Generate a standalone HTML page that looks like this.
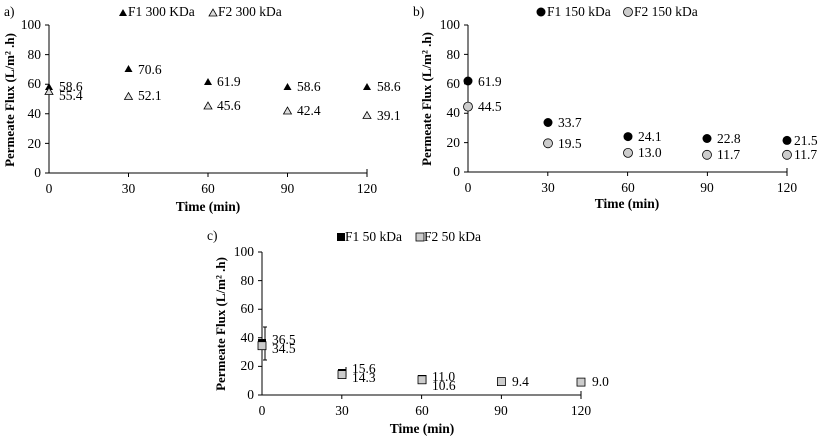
<!DOCTYPE html>
<html><head><meta charset="utf-8"><style>
body{margin:0;background:#fff}
svg{display:block;font-family:"Liberation Serif",serif;font-size:13.5px}
.b{font-weight:bold}
</style></head><body>
<svg width="820" height="436" viewBox="0 0 820 436">
<g stroke="#000" stroke-width="1" fill="none">
<path d="M49,25V173H367"/>
<path d="M45,25H49M45,54.6H49M45,84.2H49M45,113.8H49M45,143.4H49M45,173H49"/>
<path d="M128.5,173v4M208,173v4M287.5,173v4M367,173v-4v8"/>
<path d="M468,25V172H787"/>
<path d="M464,25H468M464,54.4H468M464,83.8H468M464,113.2H468M464,142.6H468M464,172H468"/>
<path d="M547.8,172v4M627.6,172v4M707.4,172v4M787,168v8"/>
<path d="M262,252V395H581"/>
<path d="M258,252H262M258,280.6H262M258,309.2H262M258,337.8H262M258,366.4H262M258,395H262"/>
<path d="M341.8,395v4M421.6,395v4M501.4,395v4M581,391v8"/>
<path d="M265,327V360M263,327h4M263,360h4M346,367v10M426,375v9"/>
</g>
<g text-anchor="end">
<text x="41" y="29">100</text><text x="41" y="59">80</text><text x="41" y="88">60</text><text x="41" y="118">40</text><text x="41" y="148">20</text><text x="41" y="177">0</text>
<text x="460" y="29">100</text><text x="460" y="59">80</text><text x="460" y="88">60</text><text x="460" y="117">40</text><text x="460" y="147">20</text><text x="460" y="176">0</text>
<text x="254" y="256">100</text><text x="254" y="285">80</text><text x="254" y="313">60</text><text x="254" y="342">40</text><text x="254" y="370">20</text><text x="254" y="399">0</text>
</g>
<g text-anchor="middle">
<text x="49" y="193">0</text><text x="128.5" y="193">30</text><text x="208" y="193">60</text><text x="287.5" y="193">90</text><text x="367" y="193">120</text>
<text x="468" y="192">0</text><text x="548" y="192">30</text><text x="628" y="192">60</text><text x="707" y="192">90</text><text x="787" y="192">120</text>
<text x="262" y="415">0</text><text x="342" y="415">30</text><text x="422" y="415">60</text><text x="501" y="415">90</text><text x="581" y="415">120</text>
<text class="b" x="208" y="211">Time (min)</text>
<text class="b" x="627" y="208">Time (min)</text>
<text class="b" x="422" y="433">Time (min)</text>
<text class="b" transform="translate(14,100) rotate(-90)" font-size="13">Permeate Flux (L/m² .h)</text>
<text class="b" transform="translate(431,99) rotate(-90)" font-size="13">Permeate Flux (L/m² .h)</text>
<text class="b" transform="translate(225,324) rotate(-90)" font-size="13">Permeate Flux (L/m² .h)</text>
</g>
<text x="4" y="16">a)</text><text x="413" y="16">b)</text><text x="207" y="240">c)</text>
<path d="M119,16l4,-7l4,7z" fill="#000"/><text x="128" y="16">F1 300 KDa</text>
<path d="M209,16l4,-7l4,7z" fill="#ddd" stroke="#000" stroke-width="0.8"/><text x="218" y="16">F2 300 kDa</text>
<circle cx="541" cy="12" r="4.5" fill="#000"/><text x="547" y="16">F1 150 kDa</text>
<circle cx="628" cy="12" r="4.5" fill="#ccc" stroke="#000" stroke-width="0.8"/><text x="634" y="16">F2 150 kDa</text>
<rect x="337" y="233" width="8" height="8" fill="#000"/><text x="345" y="241">F1 50 kDa</text>
<rect x="416" y="233" width="8" height="8" fill="#ccc" stroke="#000" stroke-width="0.8"/><text x="424" y="241">F2 50 kDa</text>
<g fill="#000">
<path d="M45,90l4,-7l4,7z"/><path d="M124.5,72l4,-7l4,7z"/><path d="M204,85l4,-7l4,7z"/><path d="M283.5,90l4,-7l4,7z"/><path d="M363,90l4,-7l4,7z"/>
</g>
<g fill="#ddd" stroke="#000" stroke-width="0.8">
<path d="M45,94.5l4,-7l4,7z"/><path d="M124.5,99.5l4,-7l4,7z"/><path d="M204,109l4,-7l4,7z"/><path d="M283.5,114l4,-7l4,7z"/><path d="M363,118.5l4,-7l4,7z"/>
</g>
<text x="59" y="91">58.6</text><text x="59" y="100">55.4</text>
<text x="138" y="74">70.6</text><text x="138" y="100">52.1</text>
<text x="217" y="86">61.9</text><text x="217" y="110">45.6</text>
<text x="297" y="91">58.6</text><text x="297" y="115">42.4</text>
<text x="377" y="91">58.6</text><text x="377" y="120">39.1</text>
<g fill="#000"><circle cx="468" cy="81" r="4.5"/><circle cx="548" cy="122.5" r="4.5"/><circle cx="628" cy="136.6" r="4.5"/><circle cx="707" cy="138.5" r="4.5"/><circle cx="787" cy="140.4" r="4.5"/></g>
<g fill="#ccc" stroke="#000" stroke-width="0.8"><circle cx="468" cy="106.6" r="4.5"/><circle cx="548" cy="143.3" r="4.5"/><circle cx="628" cy="152.9" r="4.5"/><circle cx="707" cy="154.8" r="4.5"/><circle cx="787" cy="154.8" r="4.5"/></g>
<text x="478" y="86">61.9</text><text x="478" y="111">44.5</text>
<text x="558" y="127">33.7</text><text x="558" y="148">19.5</text>
<text x="638" y="141">24.1</text><text x="638" y="157">13.0</text>
<text x="717" y="143">22.8</text><text x="717" y="159">11.7</text>
<text x="794" y="145">21.5</text><text x="794" y="159">11.7</text>
<g fill="#000"><rect x="258" y="339" width="8" height="8"/><rect x="338" y="369" width="8" height="8"/><rect x="418" y="375" width="8" height="8"/></g>
<g fill="#ccc" stroke="#000" stroke-width="0.8"><rect x="258" y="341.7" width="8" height="8"/><rect x="338" y="370.6" width="8" height="8"/><rect x="418" y="375.8" width="8" height="8"/><rect x="497.4" y="377.6" width="8" height="8"/><rect x="577" y="378.1" width="8" height="8"/></g>
<text x="272" y="344">36.5</text><text x="272" y="353">34.5</text>
<text x="352" y="373">15.6</text><text x="352" y="382">14.3</text>
<text x="432" y="381">11.0</text><text x="432" y="390">10.6</text>
<text x="512" y="386">9.4</text><text x="592" y="386">9.0</text>
</svg>
</body></html>
